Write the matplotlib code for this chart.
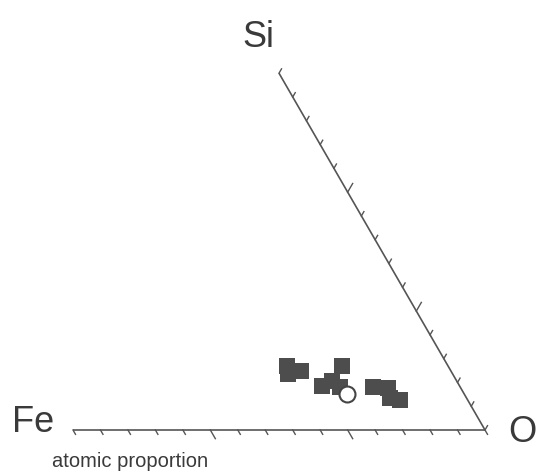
import numpy as np
import matplotlib
matplotlib.use("Agg")
import matplotlib.pyplot as plt

# ternary data (atomic proportion): Fe, O, Si
sq_o  = [0.430, 0.443, 0.471, 0.563, 0.543, 0.560, 0.588, 0.668, 0.706, 0.725, 0.752]
sq_si = [0.179, 0.157, 0.165, 0.179, 0.123, 0.137, 0.121, 0.121, 0.118, 0.090, 0.084]
sq_fe = [1 - a - b for a, b in zip(sq_o, sq_si)]
circ_o  = [0.615]
circ_si = [0.101]
circ_fe = [1 - a - b for a, b in zip(circ_o, circ_si)]
corner_labels = ["Fe", "O", "Si"]
n_div = 15

H = np.sqrt(3) / 2


def to_xy(fe, o, si):
    fe, o, si = map(np.asarray, (fe, o, si))
    tot = fe + o + si
    x = (o + si / 2) / tot
    y = (si * H) / tot
    return x, y


plt.rcParams['font.family'] = ['Liberation Sans', 'DejaVu Sans']
fig = plt.figure(figsize=(5.38, 4.71), dpi=100)
ax = fig.add_axes([0, 0, 1, 1])
ax.set_xlim(-73 / 412, (538 - 73) / 412)
ax.set_ylim((430 - 471) / 412, 430 / 412)
ax.axis('off')

lc = '#555555'
# two drawn sides: Fe-O (bottom) and O-Si (right)
Fe = np.array([0.0, 0.0]); O = np.array([1.0, 0.0]); Si = np.array([0.5, H])
ax.plot([Fe[0], O[0]], [Fe[1], O[1]], color=lc, lw=1.2, solid_capstyle='butt')
ax.plot([O[0], Si[0]], [O[1], Si[1]], color=lc, lw=1.2, solid_capstyle='butt')

minor = 5 / 412
major = 10 / 412
# bottom ticks, slanted down-right
db = np.array([0.5, -H])
for i in range(n_div + 1):
    p = Fe + (O - Fe) * i / n_div
    L = major if i in (5, 10) else minor
    q = p + db * L
    ax.plot([p[0], q[0]], [p[1], q[1]], color=lc, lw=1.0)
# right side ticks, slanted up-right
dr = np.array([0.5, H])
for i in range(n_div + 1):
    p = Si + (O - Si) * i / n_div
    L = major if i in (5, 10) else minor
    q = p + dr * L
    ax.plot([p[0], q[0]], [p[1], q[1]], color=lc, lw=1.0)

x, y = to_xy(sq_fe, sq_o, sq_si)
ax.plot(x, y, 's', ms=11, color='#4d4d4d', mec='#4d4d4d', mew=0, zorder=3)
x, y = to_xy(circ_fe, circ_o, circ_si)
ax.plot(x, y, 'o', ms=11.5, mfc='white', mec='#444444', mew=1.5, zorder=4)

tc = '#3a3a3a'
ax.text((12 - 73) / 412, (430 - 432) / 412, corner_labels[0], fontsize=26,
        color=tc, ha='left', va='baseline')
ax.text((508 - 73) / 412, (430 - 442) / 412, corner_labels[1], fontsize=26,
        color=tc, ha='left', va='baseline')
ax.text((242 - 73) / 412, (430 - 47) / 412, corner_labels[2], fontsize=26,
        color=tc, ha='left', va='baseline')
ax.text((52 - 73) / 412, (430 - 467) / 412, "atomic proportion", fontsize=14.5,
        color=tc, ha='left', va='baseline')

fig.savefig('out.png', dpi=100)
